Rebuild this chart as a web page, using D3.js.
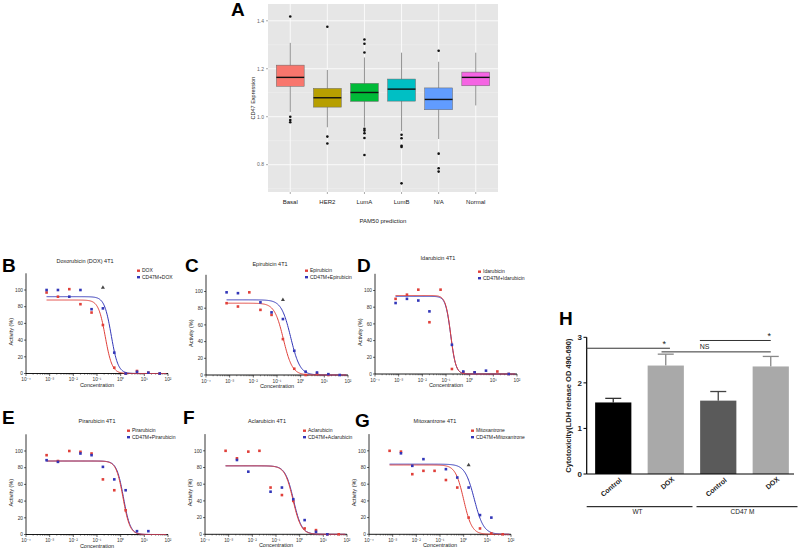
<!DOCTYPE html>
<html>
<head>
<meta charset="utf-8">
<script src="https://cdn.jsdelivr.net/npm/d3@7"></script>
<style>
  body { margin: 0; background: #fff; }
  text { font-family: "Liberation Sans", Arial, sans-serif; }
</style>
</head>
<body>
<svg id="fig" width="800" height="552"></svg>
<script>
// ---------- panel A : CD47 expression by PAM50 subtype ----------
var subtypes = ["Basal", "HER2", "LumA", "LumB", "N/A", "Normal"];
var subtypeColors = ["#F8766D", "#B79F00", "#00BA38", "#00BFC4", "#619CFF", "#F564E3"];
// [lower whisker, q1, median, q3, upper whisker]
var boxStats = [
  [1.020, 1.127, 1.164, 1.215, 1.308],
  [0.956, 1.040, 1.079, 1.118, 1.195],
  [0.958, 1.064, 1.101, 1.139, 1.247],
  [0.940, 1.065, 1.115, 1.157, 1.267],
  [0.907, 1.029, 1.072, 1.120, 1.229],
  [1.047, 1.129, 1.164, 1.186, 1.267]
];
var outliers = [
  [1.418, 1.000, 0.986, 0.977],
  [1.375, 0.917, 0.888],
  [1.322, 1.304, 1.268, 0.950, 0.942, 0.931, 0.911, 0.840],
  [0.925, 0.910, 0.879, 0.874, 0.722],
  [1.275, 0.846, 0.785, 0.771],
  []
];
var aTicks = [0.8, 1.0, 1.2, 1.4];

// ---------- panels B-G : viability curves ----------
var doseLog = [-3.13, -2.65, -2.17, -1.70, -1.23, -0.75, -0.27, 0.21, 0.69, 1.17, 1.65];
var decades = [-4, -3, -2, -1, 0, 1, 2];
var viaTicks = [0, 20, 40, 60, 80, 100];
var drugTitles = ["Doxorubicin (DOX) 4T1", "Epirubicin 4T1", "Idarubicin 4T1",
                  "Pirarubicin 4T1", "Aclarubicin 4T1", "Mitoxantrone 4T1"];
var drugNames = ["DOX", "Epirubicin", "Idarubicin", "Pirarubicin", "Aclarubicin", "Mitoxantrone"];
// activity (%) of WT cells (red) and CD47M cells (blue), one value per dose
var wtActivity = [
  [97, 92, 101, 83, 73, 58, 7, 0, 3, 1, 0],
  [86, 82, 99, 78, 72, 43, 7.5, 0, 1.5, 0, null],
  [90, 95, 101, 62, 101, 6, 2, 2, null, 3, 0],
  [95, 88, 100, 99, 97, 66, 53, 29, null, null, null],
  [100, 91, 99, 100, 56, 47, 40, 7, 5, 0, 0],
  [100, 99, 72, 76, 76, 65, 56, 20, 7, 1, 0]
];
var cd47Activity = [
  [100, 100, 92, 100, 77, 78, 25, 0, 2, 1, 0],
  [99, 98, null, 87, 75, 67, 29, 4, 3, 1, 0],
  [85, 90, 88, 75, null, 35, 3, 2, 4, null, 0],
  [89, 87, null, 97, 95, 81, 66, 53, 4, 4, null],
  [null, 89, 75, null, 51, 56, 42, 17, 3, 0, null],
  [null, 97, 82, 90, null, 78, 68, 56, 23, 20, null]
];
// fitted curve: [top, logIC50, hill slope]
var wtFit = [[88, -0.65, 3], [86, -0.73, 2.3], [94, -0.80, 4], [88, 0.10, 3], [82, -0.28, 2.5], [83, 0.00, 2.5]];
var cd47Fit = [[92, -0.40, 3], [90, -0.42, 2.2], [93, -0.80, 4], [88, 0.12, 3], [82, -0.26, 2.5], [84, 0.45, 2.2]];
// extra triangle markers [dose index, value]
var flagPoints = [[5, 103], [5, 90], null, null, null, [7, 83]];

// ---------- panel H : LDH release ----------
var hBars = ["Control", "DOX", "Control", "DOX"];
var hGroups = ["WT", "CD47 M"];
var hMeans = [1.57, 2.38, 1.61, 2.36];
var hErrors = [0.09, 0.25, 0.20, 0.22];
var hColors = ["#000000", "#a9a9a9", "#5a5a5a", "#a9a9a9"];
// significance lines: [from, to (bar units), y, label, label position]
var hSig = [[-0.52, 1.08, 2.76, "*", 0.97], [0.92, 3.0, 2.68, "NS", 1.74], [1.65, 3.0, 2.93, "*", 2.97]];

var svg = d3.select("#fig");
svg.append("rect").attr("width", 800).attr("height", 552).attr("fill", "#fff");

function panelLetter(txt, x, y) {
  svg.append("text").attr("x", x).attr("y", y).text(txt)
    .style("font-size", "19px").style("font-weight", "bold").attr("fill", "#000");
}

// ================= panel A =================
(function () {
  var left = 268, right = 498, top = 4, bottom = 192;
  var g = svg.append("g");
  var x = d3.scalePoint().domain(subtypes).range([left, right]).padding(0.6);
  var y = d3.scaleLinear().domain([0.686, 1.47]).range([bottom, top]);
  var step = x.step();

  g.append("rect").attr("x", left).attr("y", top).attr("width", right - left)
    .attr("height", bottom - top).attr("fill", "#e6e6e6");
  // minor then major grid
  [0.7, 0.9, 1.1, 1.3].forEach(function (v) {
    g.append("line").attr("x1", left).attr("x2", right).attr("y1", y(v)).attr("y2", y(v))
      .attr("stroke", "#f2f2f2").attr("stroke-width", 0.5);
  });
  aTicks.forEach(function (v) {
    g.append("line").attr("x1", left).attr("x2", right).attr("y1", y(v)).attr("y2", y(v))
      .attr("stroke", "#fafafa").attr("stroke-width", 1);
  });
  subtypes.forEach(function (s) {
    g.append("line").attr("x1", x(s)).attr("x2", x(s)).attr("y1", top).attr("y2", bottom)
      .attr("stroke", "#fafafa").attr("stroke-width", 1);
  });

  var bw = step * 0.75;
  subtypes.forEach(function (s, i) {
    var b = boxStats[i], cx = x(s);
    g.append("line").attr("x1", cx).attr("x2", cx).attr("y1", y(b[0])).attr("y2", y(b[4]))
      .attr("stroke", "#777").attr("stroke-width", 0.8);
    g.append("rect").attr("x", cx - bw / 2).attr("y", y(b[3])).attr("width", bw)
      .attr("height", y(b[1]) - y(b[3])).attr("fill", subtypeColors[i])
      .attr("stroke", "#666").attr("stroke-width", 0.5);
    g.append("line").attr("x1", cx - bw / 2).attr("x2", cx + bw / 2).attr("y1", y(b[2])).attr("y2", y(b[2]))
      .attr("stroke", "#111").attr("stroke-width", 1.4);
    outliers[i].forEach(function (v) {
      g.append("circle").attr("cx", cx).attr("cy", y(v)).attr("r", 1.3).attr("fill", "#111");
    });
  });

  // axes
  aTicks.forEach(function (v) {
    g.append("line").attr("x1", left - 2).attr("x2", left).attr("y1", y(v)).attr("y2", y(v)).attr("stroke", "#555").attr("stroke-width", 0.5);
    g.append("text").attr("x", left - 4).attr("y", y(v) + 1.8).attr("text-anchor", "end")
      .style("font-size", "5px").attr("fill", "#666").text(v.toFixed(1));
  });
  subtypes.forEach(function (s) {
    g.append("line").attr("x1", x(s)).attr("x2", x(s)).attr("y1", bottom).attr("y2", bottom + 2).attr("stroke", "#555").attr("stroke-width", 0.5);
    g.append("text").attr("x", x(s)).attr("y", bottom + 12).attr("text-anchor", "middle")
      .style("font-size", "6px").attr("fill", "#222").text(s);
  });
  g.append("text").attr("x", (left + right) / 2).attr("y", 223).attr("text-anchor", "middle")
    .style("font-size", "6px").attr("fill", "#222").text("PAM50 prediction");
  g.append("text").attr("transform", "translate(255," + (top + bottom) / 2 + ") rotate(-90)")
    .attr("text-anchor", "middle").style("font-size", "5.5px").attr("fill", "#222").text("CD47 Expression");
  panelLetter("A", 231, 16);
})();

// ================= panels B-G =================
var doseLayout = [
  { letter: "B", lx: 2,   ly: 272, x0: 26,  x1: 168, y0: 373.5, tx: 85,  ty: 263, gx: 137, gy: 272 },
  { letter: "C", lx: 185, ly: 272, x0: 206, x1: 348, y0: 375,   tx: 270, ty: 266, gx: 305, gy: 272 },
  { letter: "D", lx: 357, ly: 272, x0: 375, x1: 517, y0: 374,   tx: 438, ty: 260, gx: 478, gy: 273 },
  { letter: "E", lx: 2,   ly: 424, x0: 26,  x1: 168, y0: 534.5, tx: 97,  ty: 423, gx: 127, gy: 432 },
  { letter: "F", lx: 183, ly: 424, x0: 205, x1: 347, y0: 534.3, tx: 267, ty: 423, gx: 303, gy: 432 },
  { letter: "G", lx: 355, ly: 427, x0: 369, x1: 511, y0: 534.3, tx: 435, ty: 423, gx: 471, gy: 432 }
];
var redCol = "#e0403a", blueCol = "#3236b8";
var supers = { "-4": "\u207B\u2074", "-3": "\u207B\u00B3", "-2": "\u207B\u00B2", "-1": "\u207B\u00B9", "0": "\u2070", "1": "\u00B9", "2": "\u00B2" };

doseLayout.forEach(function (L, p) {
  var g = svg.append("g");
  var x = d3.scaleLinear().domain([decades[0], decades[decades.length - 1]]).range([L.x0, L.x1]);
  var y = d3.scaleLinear().domain([0, 120]).range([L.y0, L.y0 - 120 * 0.835]);

  // y axis
  g.append("line").attr("x1", L.x0).attr("x2", L.x0).attr("y1", y(0)).attr("y2", y(120)).attr("stroke", "#000").attr("stroke-width", 0.8);
  viaTicks.forEach(function (v) {
    g.append("line").attr("x1", L.x0 - 2).attr("x2", L.x0).attr("y1", y(v)).attr("y2", y(v)).attr("stroke", "#000").attr("stroke-width", 0.6);
    g.append("text").attr("x", L.x0 - 3).attr("y", y(v) + 1.7).attr("text-anchor", "end")
      .style("font-size", "4.8px").attr("fill", "#333").text(v);
  });
  g.append("text").attr("transform", "translate(" + (L.x0 - 13) + "," + y(50) + ") rotate(-90)")
    .attr("text-anchor", "middle").style("font-size", "5.5px").attr("fill", "#222").text("Activity (%)");

  // x axis with log ticks
  g.append("line").attr("x1", L.x0).attr("x2", L.x1).attr("y1", y(0)).attr("y2", y(0)).attr("stroke", "#000").attr("stroke-width", 0.9);
  decades.forEach(function (d, i) {
    g.append("line").attr("x1", x(d)).attr("x2", x(d)).attr("y1", y(0)).attr("y2", y(0) + 2.5).attr("stroke", "#000").attr("stroke-width", 0.6);
    if (i < decades.length - 1) {
      d3.range(2, 10).forEach(function (m) {
        var xm = x(d + Math.log10(m));
        g.append("line").attr("x1", xm).attr("x2", xm).attr("y1", y(0)).attr("y2", y(0) + 1.3).attr("stroke", "#000").attr("stroke-width", 0.4);
      });
    }
    g.append("text").attr("x", x(d)).attr("y", y(0) + 7.5).attr("text-anchor", "middle")
      .style("font-size", "4.8px").attr("fill", "#333").text("10" + supers[String(d)]);
  });
  g.append("text").attr("x", (L.x0 + L.x1) / 2).attr("y", y(0) + 13).attr("text-anchor", "middle")
    .style("font-size", "5.5px").attr("fill", "#222").text("Concentration");

  // title & legend
  g.append("text").attr("x", L.tx).attr("y", L.ty).attr("text-anchor", "middle")
    .style("font-size", "5.5px").attr("fill", "#222").text(drugTitles[p]);
  [[redCol, drugNames[p]], [blueCol, "CD47M+" + drugNames[p]]].forEach(function (e, k) {
    g.append("rect").attr("x", L.gx).attr("y", L.gy + k * 6.5 - 2.5).attr("width", 3).attr("height", 2.4).attr("fill", e[0]);
    g.append("text").attr("x", L.gx + 5).attr("y", L.gy + k * 6.5 + 0.3)
      .style("font-size", "5px").attr("fill", "#222").text(e[1]);
  });

  // fitted curves
  var line = d3.line().x(function (d) { return x(d[0]); }).y(function (d) { return y(d[1]); }).curve(d3.curveBasis);
  var xs = d3.range(doseLog[0], 1.95, 0.02);
  [[cd47Fit[p], blueCol], [wtFit[p], redCol]].forEach(function (f) {
    var prm = f[0];
    var pts = xs.map(function (lx) { return [lx, prm[0] / (1 + Math.pow(10, (lx - prm[1]) * prm[2]))]; });
    g.append("path").attr("d", line(pts)).attr("fill", "none").attr("stroke", f[1]).attr("stroke-width", 1);
  });

  // points
  [[wtActivity[p], redCol], [cd47Activity[p], blueCol]].forEach(function (s) {
    s[0].forEach(function (v, i) {
      if (v === null) return;
      g.append("rect").attr("x", x(doseLog[i]) - 1.3).attr("y", y(v) - 1.3).attr("width", 2.6).attr("height", 2.6).attr("fill", s[1]);
    });
  });
  if (flagPoints[p]) {
    g.append("path").attr("d", d3.symbol().type(d3.symbolTriangle).size(7)())
      .attr("transform", "translate(" + x(doseLog[flagPoints[p][0]]) + "," + y(flagPoints[p][1]) + ")")
      .attr("fill", "#444");
  }
  panelLetter(L.letter, L.lx, L.ly);
});

// ================= panel H =================
(function () {
  var g = svg.append("g");
  var x = d3.scaleBand().domain(d3.range(hBars.length)).range([587, 797]).paddingInner(0.31).paddingOuter(0.155);
  var y = d3.scaleLinear().domain([0, 3]).range([474, 337.3]);
  var bw = x.bandwidth(), step = x.step();
  function pos(u) { return x(0) + bw / 2 + u * step; }

  hMeans.forEach(function (m, i) {
    var cx = x(i) + bw / 2, capCol = i === 0 ? "#333" : (i === 2 ? "#444" : "#888");
    g.append("line").attr("x1", cx).attr("x2", cx).attr("y1", y(m)).attr("y2", y(m + hErrors[i])).attr("stroke", capCol).attr("stroke-width", 1.3);
    g.append("line").attr("x1", cx - 8).attr("x2", cx + 8).attr("y1", y(m + hErrors[i])).attr("y2", y(m + hErrors[i])).attr("stroke", capCol).attr("stroke-width", 1.3);
    g.append("rect").attr("x", x(i)).attr("y", y(m)).attr("width", bw).attr("height", y(0) - y(m)).attr("fill", hColors[i]);
  });

  // axes
  g.append("line").attr("x1", 586.7).attr("x2", 586.7).attr("y1", y(0)).attr("y2", y(3)).attr("stroke", "#000").attr("stroke-width", 1.2);
  g.append("line").attr("x1", 586.7).attr("x2", 794).attr("y1", y(0)).attr("y2", y(0)).attr("stroke", "#000").attr("stroke-width", 1.2);
  y.ticks(3).forEach(function (v) {
    g.append("line").attr("x1", 583.5).attr("x2", 586.7).attr("y1", y(v)).attr("y2", y(v)).attr("stroke", "#000").attr("stroke-width", 1);
    g.append("text").attr("x", 582).attr("y", y(v) + 2.8).attr("text-anchor", "end")
      .style("font-size", "8px").style("font-weight", "bold").attr("fill", "#222").text(v);
  });
  g.append("text").attr("transform", "translate(571," + y(1.5) + ") rotate(-90)")
    .attr("text-anchor", "middle").style("font-size", "7.5px").style("font-weight", "bold").attr("fill", "#222")
    .text("Cytotoxicity(LDH release  OD 490-690)");

  hBars.forEach(function (b, i) {
    var cx = x(i) + bw / 2;
    g.append("text").attr("transform", "translate(" + (cx + 9) + "," + (i % 2 ? 480 : 481) + ") rotate(-40)")
      .attr("text-anchor", "end").style("font-size", "7px").style("font-weight", "bold").attr("fill", "#222").text(b);
  });

  // group lines
  [[0, 1, 586.7, 692.5], [2, 3, 696.5, 797.5]].forEach(function (gr, k) {
    g.append("line").attr("x1", gr[2]).attr("x2", gr[3]).attr("y1", 506.7).attr("y2", 506.7).attr("stroke", "#000").attr("stroke-width", 1);
    g.append("text").attr("x", (pos(gr[0]) + pos(gr[1])) / 2 - 2).attr("y", 514).attr("text-anchor", "middle")
      .style("font-size", "6.5px").attr("fill", "#222").text(hGroups[k]);
  });

  // significance
  hSig.forEach(function (s) {
    g.append("line").attr("x1", pos(s[0])).attr("x2", pos(s[1])).attr("y1", y(s[2])).attr("y2", y(s[2])).attr("stroke", "#333").attr("stroke-width", 1);
    g.append("text").attr("x", pos(s[4])).attr("y", y(s[2]) - (s[3] === "*" ? 1.5 : 2.5)).attr("text-anchor", "middle")
      .style("font-size", s[3] === "*" ? "9px" : "7px").attr("fill", "#222").text(s[3]);
  });
  panelLetter("H", 559, 325);
})();
</script>
</body>
</html>
